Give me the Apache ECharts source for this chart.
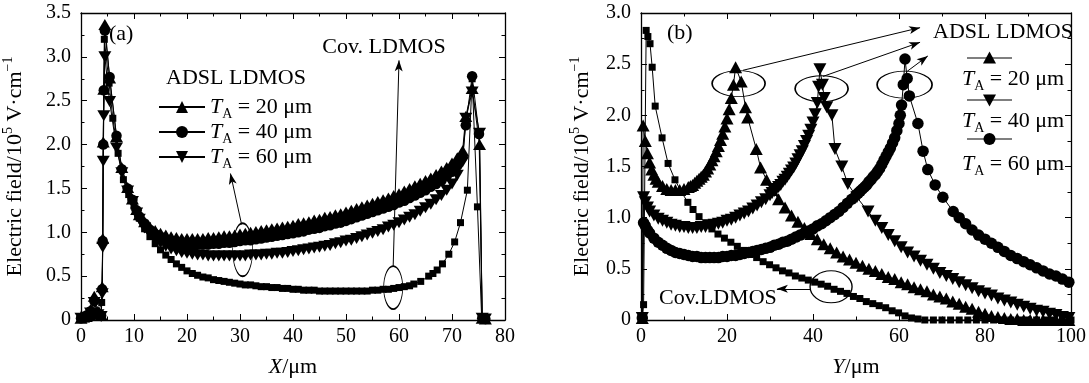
<!DOCTYPE html>
<html>
<head>
<meta charset="utf-8">
<script src="https://cdn.jsdelivr.net/npm/echarts@6/dist/echarts.min.js"></script>
<style>
  html, body { margin: 0; padding: 0; background: #fff; }
  #chart { width: 1089px; height: 383px; }
</style>
</head>
<body>
<div id="chart"></div>
<script>
// ---------- Panel (a): field along X (µm) ----------
const aCov = [[0,0.01],[1,0.01],[2,0.03],[3,0.05],[3.9,0.2],[4.1,0.9],[4.2,2.0],[4.4,3.2],[5.3,2.7],[6,2.3],[7,1.9],[8,1.6],[9,1.43],[10,1.3],[11,1.16],[12,1.04],[13,0.95],[14,0.87],[15,0.8],[16,0.74],[17,0.69],[18,0.64],[19,0.6],[20,0.56],[21,0.53],[22,0.51],[23,0.49],[24,0.48],[25,0.46],[26,0.45],[27,0.44],[28,0.43],[29,0.42],[30,0.41],[31,0.4],[32,0.4],[33,0.39],[34,0.38],[35,0.38],[36,0.37],[37,0.37],[38,0.36],[39,0.36],[40,0.35],[41,0.35],[42,0.34],[43,0.34],[44,0.34],[45,0.33],[46,0.33],[47,0.33],[48,0.33],[49,0.33],[50,0.33],[51,0.33],[52,0.33],[53,0.33],[54,0.33],[55,0.34],[56,0.34],[57,0.35],[58,0.35],[59,0.36],[60,0.37],[61,0.38],[62,0.39],[62.8,0.41],[64.1,0.44],[65.6,0.5],[66.4,0.53],[67.2,0.57],[68.2,0.64],[69.4,0.75],[70.5,0.89],[71.6,1.11],[72.9,1.48],[73.8,2.75],[74.8,1.29],[75.6,0.02],[76.3,0.01]];

const aTa20 = [[0,0.02],[1,0.04],[1.8,0.12],[2.5,0.27],[3.2,0.1],[3.8,0.06],[4.0,0.38],[4.1,0.93],[4.2,2.03],[4.3,2.63],[4.5,3.37],[5.4,2.76],[6.7,2.09],[7.7,1.74],[8.8,1.51],[9.7,1.38],[10.5,1.26],[11,1.2],[12,1.12],[13,1.06],[14,1.02],[15,0.99],[16,0.97],[17,0.95],[18,0.94],[19,0.93],[20,0.93],[21,0.93],[22,0.93],[23,0.93],[24,0.94],[25,0.94],[26,0.95],[27,0.96],[28,0.96],[29,0.97],[30,0.98],[31,0.99],[32,1.0],[33,1.01],[34,1.02],[35,1.03],[36,1.04],[37,1.05],[38,1.06],[39,1.07],[40,1.08],[41,1.1],[42,1.11],[43,1.12],[44,1.14],[45,1.15],[46,1.17],[47,1.18],[48,1.2],[49,1.21],[50,1.23],[51,1.25],[52,1.27],[53,1.29],[54,1.31],[55,1.33],[56,1.35],[57,1.37],[58,1.39],[59,1.42],[60,1.44],[61,1.47],[62,1.5],[63,1.53],[64,1.56],[65,1.59],[66,1.62],[67,1.66],[68,1.7],[69,1.74],[70,1.79],[71,1.85],[72,1.93],[72.6,2.32],[73.8,2.64],[75.2,2.0],[75.7,0.02],[76.3,0.01]];

const aTa40 = [[0,0.02],[1,0.05],[1.8,0.1],[2.5,0.22],[3.2,0.08],[3.8,0.05],[4.0,0.35],[4.1,0.9],[4.2,2.0],[4.3,2.62],[4.5,3.3],[5.4,2.77],[6.7,2.1],[7.7,1.72],[8.8,1.5],[9.7,1.37],[10.5,1.25],[11,1.18],[12,1.1],[13,1.03],[14,0.98],[15,0.95],[16,0.92],[17,0.9],[18,0.88],[19,0.87],[20,0.86],[21,0.86],[22,0.86],[23,0.86],[24,0.86],[25,0.87],[26,0.87],[27,0.88],[28,0.88],[29,0.89],[30,0.9],[31,0.91],[32,0.91],[33,0.92],[34,0.93],[35,0.94],[36,0.95],[37,0.96],[38,0.97],[39,0.98],[40,0.99],[41,1.0],[42,1.01],[43,1.03],[44,1.04],[45,1.05],[46,1.07],[47,1.08],[48,1.1],[49,1.11],[50,1.13],[51,1.15],[52,1.17],[53,1.19],[54,1.21],[55,1.23],[56,1.25],[57,1.27],[58,1.29],[59,1.31],[60,1.34],[61,1.36],[62,1.39],[63,1.42],[64,1.45],[65,1.48],[66,1.52],[67,1.55],[68,1.59],[69,1.64],[70,1.69],[71,1.76],[72,1.86],[72.6,2.22],[73.8,2.78],[75.1,2.12],[75.7,0.02],[76.3,0.01]];

const aTa60 = [[0,0.02],[1,0.03],[1.8,0.08],[2.5,0.2],[3.2,0.06],[3.8,0.04],[4.0,0.3],[4.1,0.83],[4.2,1.81],[4.3,2.33],[4.5,3.0],[5.4,2.49],[6.7,1.96],[7.7,1.68],[8.8,1.47],[9.7,1.35],[10.5,1.22],[11,1.15],[12,1.05],[13,0.98],[14,0.92],[15,0.88],[16,0.84],[17,0.81],[18,0.79],[19,0.77],[20,0.76],[21,0.75],[22,0.74],[23,0.74],[24,0.73],[25,0.73],[26,0.73],[27,0.73],[28,0.73],[29,0.73],[30,0.73],[31,0.73],[32,0.74],[33,0.74],[34,0.74],[35,0.75],[36,0.75],[37,0.76],[38,0.76],[39,0.77],[40,0.78],[41,0.79],[42,0.8],[43,0.81],[44,0.82],[45,0.83],[46,0.84],[47,0.85],[48,0.87],[49,0.88],[50,0.9],[51,0.91],[52,0.93],[53,0.95],[54,0.97],[55,0.99],[56,1.01],[57,1.03],[58,1.06],[59,1.08],[60,1.11],[61,1.14],[62,1.17],[63,1.2],[64,1.24],[65,1.28],[66,1.32],[67,1.37],[68,1.42],[69,1.48],[70,1.55],[71,1.65],[72,1.8],[72.6,2.3],[73.8,2.6],[75.2,2.13],[75.7,0.02],[76.3,0.01]];

// ---------- Panel (b): field along Y (µm) ----------
const bCov = [[0.3,0],[0.6,0.15],[1.2,2.83],[1.6,2.77],[2.1,2.7],[2.6,2.47],[3.3,2.09],[4.9,1.78],[6.3,1.53],[7.9,1.37],[9.4,1.25],[10.9,1.15],[12.1,1.08],[13.5,1.01],[15.1,0.95],[16.5,0.89],[17.9,0.84],[19.4,0.8],[20.9,0.76],[22.4,0.72],[23.9,0.68],[25.4,0.64],[26.9,0.61],[28.4,0.57],[29.9,0.54],[31.4,0.51],[32.9,0.48],[34.4,0.46],[35.9,0.43],[37.4,0.41],[38.9,0.39],[40.4,0.37],[41.9,0.35],[43.4,0.33],[44.9,0.3],[46.4,0.28],[47.9,0.26],[49.4,0.23],[50.9,0.21],[52.4,0.18],[53.9,0.16],[55.4,0.14],[56.9,0.12],[58.4,0.09],[59.9,0.07],[61.4,0.04],[62.9,0.02],[64.4,0.01],[66,0],[68,0],[70,0],[72,0],[74,0],[76,0],[78,0],[80,0],[82,0],[84,0],[86,0],[88,0],[90,0],[92,0],[94,0],[96,0],[98,0],[100,0]];

const bTa20 = [[0.3,0.02],[0.5,1.9],[1,1.75],[1.5,1.63],[2,1.54],[2.5,1.47],[3,1.42],[3.5,1.38],[4,1.35],[5,1.31],[6,1.28],[7,1.27],[8,1.27],[9,1.27],[10,1.28],[11,1.3],[11.5,1.31],[12,1.32],[12.5,1.34],[13,1.36],[13.5,1.38],[14,1.4],[14.5,1.42],[15,1.45],[15.5,1.48],[16,1.52],[16.5,1.56],[17,1.6],[17.5,1.65],[18,1.7],[18.5,1.76],[19,1.82],[19.5,1.89],[20,1.97],[20.5,2.06],[21,2.17],[21.5,2.3],[22,2.47],[23.3,2.33],[24.3,2.08],[24.8,1.98],[26.8,1.67],[27.8,1.49],[29.2,1.37],[30.5,1.27],[32,1.18],[33.5,1.1],[35,1.02],[36.5,0.96],[38,0.9],[39.5,0.84],[41,0.79],[42.5,0.74],[44,0.7],[45.5,0.66],[47,0.62],[48.5,0.59],[50,0.56],[51.5,0.53],[53,0.5],[54.5,0.48],[56,0.45],[57.5,0.42],[59,0.4],[60.5,0.37],[62,0.35],[63.5,0.32],[65,0.3],[66.5,0.28],[68,0.25],[69.5,0.23],[71,0.21],[72.5,0.18],[74,0.16],[75.5,0.13],[77,0.11],[78.5,0.08],[80,0.06],[81.5,0.04],[83,0.03],[84.5,0.02],[86,0.01],[87.5,0.01],[89,0],[90.5,0],[92,0],[93.5,0],[95,0],[96.5,0],[98,0],[99.5,0]];

const bTa40 = [[0.3,0.02],[0.6,1.2],[1,1.15],[1.5,1.1],[2,1.06],[3,1.02],[4,0.99],[5,0.97],[6,0.95],[7,0.93],[8,0.92],[9,0.91],[10,0.91],[11,0.9],[12,0.9],[13,0.9],[14,0.91],[15,0.91],[16,0.92],[17,0.93],[18,0.94],[19,0.95],[20,0.97],[21,0.98],[22,1.0],[23,1.02],[24,1.04],[25,1.06],[26,1.09],[27,1.12],[28,1.15],[29,1.18],[30,1.22],[30.5,1.24],[31,1.26],[31.5,1.28],[32,1.3],[32.5,1.32],[33,1.35],[33.5,1.37],[34,1.4],[34.5,1.43],[35,1.46],[35.5,1.49],[36,1.53],[36.5,1.57],[37,1.61],[37.5,1.65],[38,1.7],[38.5,1.75],[39,1.8],[39.5,1.86],[40,1.93],[40.5,2.01],[41,2.12],[41.3,2.28],[41.6,2.45],[42.2,2.3],[42.6,2.17],[43.2,2.08],[44.4,2.0],[45.1,1.67],[46.7,1.5],[48.1,1.33],[50.2,1.2],[52.8,1.06],[54.5,0.97],[56,0.9],[57.5,0.83],[59,0.77],[60.5,0.71],[62,0.66],[63.5,0.62],[65,0.58],[66.5,0.54],[68,0.5],[69.5,0.46],[71,0.43],[72.5,0.4],[74,0.37],[75.5,0.34],[77,0.31],[78.5,0.28],[80,0.26],[81.5,0.24],[83,0.21],[84.5,0.19],[86,0.17],[87.5,0.15],[89,0.13],[90.5,0.11],[92,0.09],[93.5,0.08],[95,0.06],[96.5,0.05],[98,0.03],[99.5,0.02]];

const bTa60 = [[0.3,0.02],[0.6,0.95],[1,0.92],[1.5,0.88],[2,0.85],[3,0.8],[4,0.76],[5,0.73],[6,0.7],[7,0.68],[8,0.66],[9,0.65],[10,0.64],[11,0.63],[12,0.62],[13,0.62],[14,0.61],[15,0.61],[16,0.61],[17,0.61],[18,0.61],[19,0.62],[20,0.62],[21,0.63],[22,0.63],[23,0.64],[24,0.65],[25,0.66],[26,0.67],[27,0.68],[28,0.69],[29,0.7],[30,0.71],[31,0.73],[32,0.74],[33,0.76],[34,0.77],[35,0.79],[36,0.81],[37,0.83],[38,0.85],[39,0.87],[40,0.89],[41,0.92],[42,0.94],[43,0.97],[44,1.0],[45,1.03],[46,1.06],[47,1.1],[48,1.14],[49,1.18],[50,1.22],[50.5,1.24],[51,1.26],[51.5,1.28],[52,1.3],[52.5,1.32],[53,1.35],[53.5,1.37],[54,1.4],[54.5,1.42],[55,1.45],[55.5,1.48],[56,1.52],[56.5,1.56],[57,1.6],[57.5,1.64],[58,1.68],[58.5,1.73],[59,1.78],[59.5,1.85],[60,1.92],[60.3,2.0],[60.6,2.1],[61,2.3],[61.4,2.55],[61.9,2.36],[62.4,2.19],[64.4,1.92],[65.6,1.65],[66.7,1.47],[68.4,1.32],[70.2,1.2],[72.6,1.06],[74,1.0],[75.5,0.94],[77,0.88],[78.5,0.83],[80,0.79],[81.5,0.75],[83,0.71],[84.5,0.67],[86,0.63],[87.5,0.6],[89,0.57],[90.5,0.54],[92,0.51],[93.5,0.48],[95,0.45],[96.5,0.43],[98,0.4],[99.5,0.37]];

// Axis ranges and tick spacing
const aXRange = [0, 80, 10];
const aYRange = [0, 3.5, 0.5];
const bXRange = [0, 100, 20];
const bYRange = [0, 3.0, 0.5];

const FONT = '"Liberation Serif", "DejaVu Serif", serif';
const FS = 22;       // titles, annotations, legend
const FS_TICK = 20;  // tick labels
const BLACK = '#000';

const richText = {
  t:   { fontFamily: FONT, fontSize: FS, color: BLACK, lineHeight: 28, verticalAlign: 'middle' },
  it:  { fontFamily: FONT, fontSize: FS, color: BLACK, fontStyle: 'italic', lineHeight: 28, verticalAlign: 'middle' },
  sub: { fontFamily: FONT, fontSize: 14, color: BLACK, lineHeight: 15, verticalAlign: 'bottom' },
  sup: { fontFamily: FONT, fontSize: 14, color: BLACK, lineHeight: 15, verticalAlign: 'top' }
};

const taLabel = v => '{it|T}{sub|A}{t| = ' + v + ' μm}';
const legendNames = { a20: taLabel(20), a40: taLabel(40), a60: taLabel(60) };

const yFmt = v => (v === 0 ? '0' : v.toFixed(1));

function xAxes(grid, range, minorSplit, title) {
  const common = {
    gridIndex: grid, type: 'value', min: range[0], max: range[1], interval: range[2],
    axisLine: { show: true, onZero: false, lineStyle: { color: BLACK, width: 1.3 } },
    axisTick: { show: true, inside: true, length: 6, lineStyle: { color: BLACK, width: 1 } },
    minorTick: { show: true, splitNumber: minorSplit, length: 3.5, lineStyle: { color: BLACK, width: 1 } },
    splitLine: { show: false }, minorSplitLine: { show: false }
  };
  return [
    Object.assign({}, common, {
      position: 'bottom',
      axisLabel: { color: BLACK, fontFamily: FONT, fontSize: FS_TICK, margin: 7 },
      name: title, nameLocation: 'middle', nameGap: 33,
      nameTextStyle: { rich: richText }
    }),
    Object.assign({}, common, { position: 'top', axisLabel: { show: false } })
  ];
}

function yAxes(grid, range, title, gap) {
  const common = {
    gridIndex: grid, type: 'value', min: range[0], max: range[1], interval: range[2],
    axisLine: { show: true, onZero: false, lineStyle: { color: BLACK, width: 1.3 } },
    axisTick: { show: true, inside: true, length: 6, lineStyle: { color: BLACK, width: 1 } },
    minorTick: { show: true, splitNumber: 2, length: 3.5, lineStyle: { color: BLACK, width: 1 } },
    splitLine: { show: false }, minorSplitLine: { show: false }
  };
  return [
    Object.assign({}, common, {
      position: 'left',
      axisLabel: { color: BLACK, fontFamily: FONT, fontSize: FS_TICK, margin: 10, formatter: yFmt },
      name: title, nameLocation: 'middle', nameGap: gap, nameRotate: 90,
      nameTextStyle: { rich: richText }
    }),
    Object.assign({}, common, { position: 'right', axisLabel: { show: false } })
  ];
}

function curve(name, data, xi, yi, symbol, size, rotate) {
  return {
    name, type: 'line', data, xAxisIndex: xi, yAxisIndex: yi,
    symbol, symbolSize: size, symbolRotate: rotate || 0,
    showSymbol: true, showAllSymbol: true, clip: false,
    lineStyle: { color: BLACK, width: 1 },
    itemStyle: { color: BLACK, borderWidth: 0 },
    emphasis: { disabled: true }, animation: false
  };
}

const arrowStyle = {
  silent: true, symbol: ['none', 'arrow'], symbolSize: [6, 11],
  label: { show: false }, emphasis: { disabled: true }, animation: false,
  lineStyle: { color: BLACK, width: 1, type: 'solid' }
};
const ringStyle = {
  silent: true, symbol: 'circle', label: { show: false }, animation: false,
  itemStyle: { color: 'rgba(0,0,0,0)', borderColor: BLACK, borderWidth: 1.2 }
};

// Panel (a) series
const sA = curve('aCov', aCov, 0, 0, 'rect', 7);
sA.markLine = Object.assign({}, arrowStyle, { data: [
  [{ coord: [30.3, 1.09] }, { coord: [28.2, 1.67] }],
  [{ coord: [58.9, 0.61] }, { coord: [60.0, 2.96] }]
] });
sA.markPoint = Object.assign({}, ringStyle, { data: [
  { coord: [30.5, 0.8], symbolSize: [20, 53] },
  { coord: [58.9, 0.37], symbolSize: [19, 43] }
] });

// Panel (b) series
const sB = curve('bCov', bCov, 2, 2, 'rect', 7);
sB.markLine = Object.assign({}, arrowStyle, { data: [
  [{ coord: [23.7, 2.44] }, { coord: [64.9, 2.857] }],
  [{ coord: [42.3, 2.38] }, { coord: [64.9, 2.714] }],
  [{ coord: [61.9, 2.43] }, { coord: [66.7, 2.58] }],
  [{ coord: [39.3, 0.305] }, { coord: [31.6, 0.305] }]
] });
sB.markPoint = Object.assign({}, ringStyle, { data: [
  { coord: [22.7, 2.31], symbolSize: [53, 26] },
  { coord: [42.0, 2.26], symbolSize: [53, 26] },
  { coord: [61.3, 2.30], symbolSize: [55, 27] },
  { coord: [44.2, 0.324], symbolSize: [42, 32] }
] });

const series = [
  sA,
  curve('a20', aTa20, 0, 0, 'triangle', [13, 11]),
  curve('a40', aTa40, 0, 0, 'circle', 10.5),
  curve('a60', aTa60, 0, 0, 'triangle', [13, 11], 180),
  sB,
  curve('b20', bTa20, 2, 2, 'triangle', [13, 12]),
  curve('b40', bTa40, 2, 2, 'triangle', [13, 12], 180),
  curve('b60', bTa60, 2, 2, 'circle', 11.5)
];

const yTitle = '{t|Electric field/10}{sup|5}{t| V·cm}{sup|−1}';
const xs = xAxes(0, aXRange, 2, '{it|X}{t|/μm}').concat(xAxes(1, bXRange, 2, '{it|Y}{t|/μm}'));
const ys = yAxes(0, aYRange, yTitle, 52).concat(yAxes(1, bYRange, yTitle, 45));

// Legend icons for panel (b): line with marker, text below
function legendIconB(y, kind) {
  const items = [{ type: 'line', shape: { x1: 967, y1: y, x2: 1012, y2: y }, style: { stroke: BLACK, lineWidth: 1.2 } }];
  const cx = 989.5;
  if (kind === 'up') items.push({ type: 'polygon', shape: { points: [[cx, y - 6.5], [cx + 6.5, y + 5.5], [cx - 6.5, y + 5.5]] }, style: { fill: BLACK } });
  if (kind === 'down') items.push({ type: 'polygon', shape: { points: [[cx - 6.5, y - 5.5], [cx + 6.5, y - 5.5], [cx, y + 6.5]] }, style: { fill: BLACK } });
  if (kind === 'circle') items.push({ type: 'circle', shape: { cx, cy: y, r: 6 }, style: { fill: BLACK } });
  return items;
}
function label(x, y, text, align) {
  return { type: 'text', x, y, silent: true,
    style: { text, fontFamily: FONT, fontSize: FS, fill: BLACK, align: align || 'left', verticalAlign: 'middle', rich: richText } };
}

const graphic = [
  label(109, 34, '(a)'),
  label(384, 47, 'Cov. LDMOS', 'center'),
  label(166, 78, 'ADSL LDMOS'),
  label(667, 33, '(b)'),
  label(933, 32, 'ADSL LDMOS'),
  label(659, 298, 'Cov.LDMOS'),
  label(962, 79, taLabel(20)),
  label(962, 121, taLabel(40)),
  label(962, 164, taLabel(60))
].concat(legendIconB(58, 'up'), legendIconB(100, 'down'), legendIconB(139, 'circle'));

const chart = echarts.init(document.getElementById('chart'), null, { renderer: 'canvas' });
chart.setOption({
  animation: false,
  backgroundColor: '#fff',
  grid: [
    { left: 77, right: 584, top: 13, bottom: 55, containLabel: false },
    { left: 641, right: 18, top: 13, bottom: 55, containLabel: false }
  ],
  xAxis: xs,
  yAxis: ys,
  legend: {
    data: ['a20', 'a40', 'a60'], orient: 'vertical', left: 153, top: 91,
    itemWidth: 46, itemHeight: 15, itemGap: 0, selectedMode: false,
    formatter: n => legendNames[n],
    textStyle: { fontFamily: FONT, fontSize: FS, color: BLACK, rich: richText }
  },
  series,
  graphic
});
</script>
</body>
</html>
